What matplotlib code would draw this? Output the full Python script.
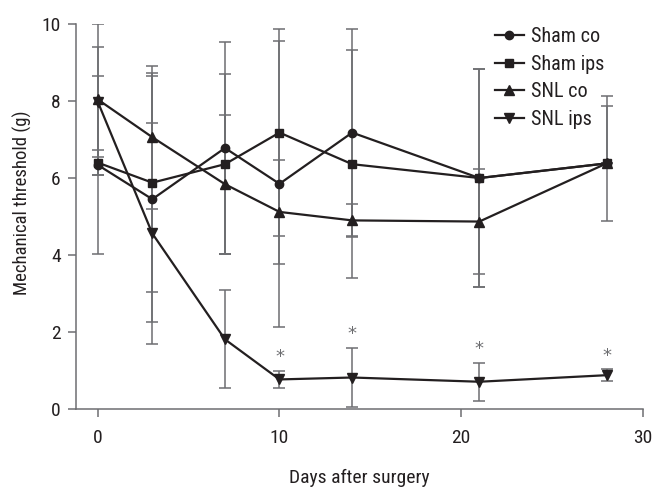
import numpy as np
import matplotlib
matplotlib.use('Agg')
import matplotlib.pyplot as plt

plt.rcParams['font.family'] = ['Roboto Condensed', 'Archivo Narrow', 'DejaVu Sans']

# data
days = [0, 3, 7, 10, 14, 21, 28]

sham_co = [6.34, 5.45, 6.78, 5.85, 7.18, 6.00, 6.38]
sham_co_sd = [2.30, 3.20, 2.75, 3.72, 2.69, 2.83, 0.00]

sham_ips = [6.40, 5.88, 6.36, 7.18, 6.36, 6.00, 6.38]
sham_ips_sd = [0.32, 2.85, 2.33, 2.69, 2.96, 2.83, 1.50]

snl_co = [8.04, 7.06, 5.84, 5.12, 4.90, 4.87, 6.38]
snl_co_sd = [1.96, 1.86, 1.81, 1.35, 0.43, 1.36, 1.76]
snl_co_sd_lo = [1.96, 1.86, 1.81, 1.35, 0.43, 1.36, 0.00]

snl_ips = [7.98, 4.56, 1.81, 0.77, 0.82, 0.71, 0.88]
snl_ips_sd = [1.43, 2.86, 1.27, 0.22, 0.77, 0.49, 0.15]

star_days = [10, 14, 21, 28]

ink = '#231f20'
bar_col = '#6d6e71'

fig = plt.figure(figsize=(6.58, 4.87), dpi=100)
ax = fig.add_axes([0.1155, 0.160, 0.8615, 0.7907])

series = [
    ('Sham co', sham_co, sham_co_sd, sham_co_sd, 'o', 6.0),
    ('Sham ips', sham_ips, sham_ips_sd, sham_ips_sd, 's', 6.0),
    ('SNL co', snl_co, snl_co_sd_lo, snl_co_sd, '^', 6.5),
    ('SNL ips', snl_ips, snl_ips_sd, snl_ips_sd, 'v', 6.5),
]

for name, vals, lo, hi, mk, ms in series:
    ax.errorbar(days, vals, yerr=[lo, hi], fmt='none', ecolor=bar_col,
                elinewidth=1.1, capsize=4, capthick=1.1, zorder=2)
    ax.plot(days, vals, color=ink, lw=1.6, marker=mk, markersize=ms,
            markerfacecolor=ink, markeredgecolor=ink, label=name, zorder=3)

# significance marks above SNL ips
for d in star_days:
    i = days.index(d)
    ax.text(d, snl_ips[i] + snl_ips_sd[i] + 0.35, '*', ha='center', va='center',
            fontsize=13, color=bar_col, family='DejaVu Sans')

ax.set_xlim(-1.2, 30)
ax.set_ylim(0, 10)
ax.set_xticks([0, 10, 20, 30])
ax.set_yticks([0, 2, 4, 6, 8, 10])

for s in ['top', 'right']:
    ax.spines[s].set_visible(False)
for s in ['left', 'bottom']:
    ax.spines[s].set_color(bar_col)
    ax.spines[s].set_linewidth(1.1)

ax.tick_params(direction='out', length=6, width=1.1, color=bar_col,
               labelsize=14, labelcolor=ink)
ax.tick_params(axis='x', pad=8)
ax.tick_params(axis='y', pad=5)

ax.set_xlabel('Days after surgery', fontsize=14, color=ink, labelpad=16)
ax.set_ylabel('Mechanical threshold (g)', fontsize=13.5, color=ink)
ax.yaxis.set_label_coords(-0.078, 0.535)

leg = fig.legend(loc='upper left', bbox_to_anchor=(0.752, 0.944), frameon=False,
                 fontsize=14.5, handlelength=1.45, handletextpad=0.35,
                 labelspacing=0.42, borderpad=0, borderaxespad=0)
for t in leg.get_texts():
    t.set_color(ink)

fig.savefig('out.png', dpi=100)
